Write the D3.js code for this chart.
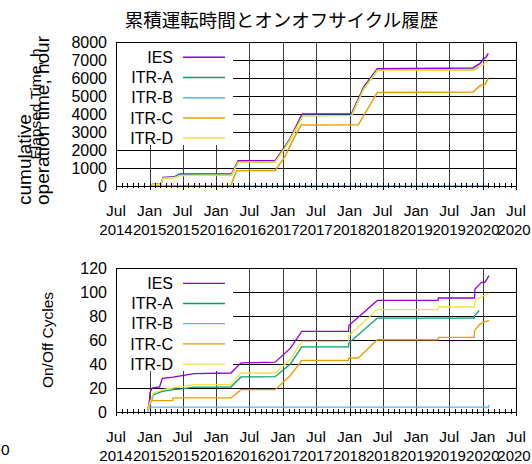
<!DOCTYPE html>
<html>
<head>
<meta charset="utf-8">
<script src="https://d3js.org/d3.v7.min.js"></script>
<style>
  body { margin: 0; background: #fff; }
</style>
</head>
<body>
<script>
var width = 532, height = 464;

var seriesNames = ["IES", "ITR-A", "ITR-B", "ITR-C", "ITR-D"];
var seriesColors = ["#9400d3", "#009e73", "#56b4e9", "#e69f00", "#f0e442"];

// cumulative operation time, hours
var iesHours = [["2015-01-13", 90], ["2015-03-03", 100], ["2015-03-16", 480], ["2015-05-19", 520], ["2015-06-16", 670],
  ["2016-03-25", 680], ["2016-05-01", 1400], ["2016-11-19", 1420], ["2017-01-12", 2200], ["2017-02-10", 2650],
  ["2017-03-01", 3050], ["2017-04-16", 4000], ["2018-01-12", 4020], ["2018-03-20", 5500], ["2018-06-02", 6520],
  ["2019-11-08", 6560], ["2019-12-16", 6800], ["2020-01-02", 7030], ["2020-01-18", 7150], ["2020-01-31", 7370]];
var itrAHours = [["2015-01-13", 80], ["2015-03-03", 90], ["2015-03-16", 440], ["2015-05-19", 480], ["2015-06-16", 600],
  ["2016-03-25", 620], ["2016-05-01", 1330], ["2016-11-19", 1350], ["2017-01-12", 2150], ["2017-02-10", 2600],
  ["2017-03-01", 2980], ["2017-04-20", 3920], ["2018-01-12", 3930], ["2018-03-20", 5420], ["2018-06-02", 6430],
  ["2019-11-08", 6450], ["2019-12-10", 6600]];
var itrBHours = [["2015-01-01", 0], ["2020-02-01", 0]];
var itrCHours = [["2015-01-01", 0], ["2016-03-20", 0], ["2016-04-22", 850], ["2016-11-19", 860], ["2017-01-12", 1630],
  ["2017-02-25", 2560], ["2017-04-10", 3390], ["2018-02-18", 3400], ["2018-06-02", 5200], ["2019-11-09", 5220],
  ["2019-12-06", 5480], ["2019-12-24", 5610], ["2020-01-12", 5620], ["2020-01-31", 5980]];
var itrDHours = [["2015-01-13", 70], ["2015-03-03", 80], ["2015-03-16", 430], ["2015-05-19", 470], ["2015-06-16", 590],
  ["2016-03-25", 610], ["2016-05-01", 1320], ["2016-11-19", 1340], ["2017-01-12", 2120], ["2017-02-10", 2580],
  ["2017-03-01", 2950], ["2017-04-20", 3900], ["2018-01-12", 3920], ["2018-03-20", 5400], ["2018-06-02", 6420],
  ["2019-11-08", 6440], ["2019-12-16", 6650], ["2020-01-10", 6800], ["2020-01-28", 6950]];

// on/off cycles
var iesCycles = [["2014-12-22", 2], ["2014-12-31", 9], ["2015-01-03", 16], ["2015-01-15", 20], ["2015-02-25", 21],
  ["2015-03-12", 28], ["2015-05-09", 29], ["2015-07-08", 30.5], ["2015-09-02", 32], ["2016-03-22", 32.5],
  ["2016-05-16", 41], ["2016-11-19", 41.5], ["2017-02-10", 53], ["2017-04-14", 67.2], ["2017-12-26", 67.2],
  ["2017-12-28", 72], ["2018-06-02", 93], ["2019-05-01", 93], ["2019-05-03", 95], ["2019-11-17", 95],
  ["2019-11-19", 102.5], ["2019-12-25", 108], ["2020-01-13", 108], ["2020-02-04", 113.6]];
var itrACycles = [["2014-12-22", 2], ["2015-01-02", 6], ["2015-01-22", 14.4], ["2015-03-12", 17.2], ["2015-05-09", 18.6],
  ["2015-07-08", 19.4], ["2015-09-02", 20.8], ["2016-03-22", 20.8], ["2016-05-16", 29.2], ["2016-11-19", 29.4],
  ["2017-02-10", 40], ["2017-04-14", 54.2], ["2017-12-26", 54.2], ["2017-12-28", 57.5], ["2018-06-02", 78.3],
  ["2019-11-15", 78.3], ["2019-11-17", 80.2], ["2019-12-13", 84.7]];
var itrBCycles = [["2014-12-22", 0], ["2014-12-31", 4], ["2020-02-02", 4], ["2020-02-04", 6]];
var itrCCycles = [["2014-12-22", 2], ["2015-01-02", 6], ["2015-01-10", 9.4], ["2015-05-08", 9.4], ["2015-05-10", 11.7],
  ["2016-03-22", 11.7], ["2016-05-16", 18.6], ["2016-11-19", 18.6], ["2017-02-10", 30.2], ["2017-04-14", 43],
  ["2017-12-26", 43], ["2017-12-28", 45], ["2018-02-18", 45], ["2018-06-02", 60.2], ["2019-05-01", 60.2],
  ["2019-05-03", 62.2], ["2019-11-15", 62.2], ["2019-11-17", 68], ["2019-12-13", 72.7], ["2019-12-25", 74],
  ["2020-02-04", 76.3]];
var itrDCycles = [["2014-12-22", 2], ["2015-01-02", 7.5], ["2015-01-22", 15.8], ["2015-03-12", 18.6], ["2015-05-09", 20],
  ["2015-07-08", 21.3], ["2015-09-02", 22.75], ["2016-03-22", 22.75], ["2016-05-16", 32.5], ["2016-11-19", 32.5],
  ["2017-02-10", 43.6], ["2017-04-14", 58.8], ["2017-12-26", 58.8], ["2017-12-28", 63.6], ["2018-06-02", 85.3],
  ["2019-05-01", 85.3], ["2019-05-03", 87.5], ["2019-11-17", 87.5], ["2019-11-19", 93], ["2020-02-04", 99.2]];

var hourTicks = [0, 1000, 2000, 3000, 4000, 5000, 6000, 7000, 8000];
var cycleTicks = [0, 20, 40, 60, 80, 100, 120];
var xDomain = ["2014-07-01", "2020-07-01"];

var parse = d3.timeParse("%Y-%m-%d");
var font = "Liberation Sans, Arial, sans-serif";

var svg = d3.select("body").append("svg")
  .attr("width", width)
  .attr("height", height);

var x = d3.scaleTime()
  .domain(xDomain.map(parse))
  .range([116, 516]);

var majorDates = d3.timeMonth.every(6).range(parse(xDomain[0]), d3.timeDay.offset(parse(xDomain[1]), 1));
var minorDates = d3.timeMonth.range(parse(xDomain[0]), d3.timeDay.offset(parse(xDomain[1]), 1));

var panels = [
  {top: 42, bottom: 186, yMax: 8000, ticks: hourTicks, data: [iesHours, itrAHours, itrBHours, itrCHours, itrDHours], lw: 1.5},
  {top: 268, bottom: 412, yMax: 120, ticks: cycleTicks, data: [iesCycles, itrACycles, itrBCycles, itrCCycles, itrDCycles], lw: 1.3}
];
panels.forEach(function(p) {
  p.y = d3.scaleLinear().domain([0, p.yMax]).range([p.bottom, p.top]);
});

function label(px, py, txt, size, anchor, rot) {
  return svg.append("text")
    .attr("transform", "translate(" + px + "," + py + ")" + (rot ? " rotate(-90)" : ""))
    .attr("text-anchor", anchor || "start")
    .attr("font-family", font).attr("font-size", size).attr("fill", "#000")
    .text(txt);
}

label(281.5, 27, "累積運転時間とオンオフサイクル履歴", 18.5, "middle")
  .attr("font-family", "Noto Sans CJK JP, sans-serif");
label(30.5, 205, "cumulative", 19, "start", true);
label(49, 205, "operation time, hour", 19, "start", true);
label(41, 104, "Elapsed Time, h", 15.5, "middle", true);
label(53, 340, "On/Off Cycles", 15.5, "middle", true);
label(1, 455, "0", 15.5);

panels.forEach(function(p) {
  p.ticks.forEach(function(t) { label(107, p.y(t) + 5.7, t, 16, "end"); });
  majorDates.forEach(function(d) {
    label(x(d), p.bottom + 30, d3.timeFormat("%b")(d), 15.5, "middle");
    label(Math.min(x(d), 514), p.bottom + 48.5, d3.timeFormat("%Y")(d), 15, "middle");
  });
});

panels.forEach(function(p) {
  var g = svg.append("g");
  var y = p.y;

  // grid as crisp paths
  var hp = d3.path();
  p.ticks.forEach(function(t) {
    var yy = Math.round(y(t)) + 0.5;
    hp.moveTo(116, yy); hp.lineTo(516, yy);
  });
  g.append("path").attr("d", hp.toString())
    .attr("fill", "none").attr("stroke", "#000").attr("stroke-width", 1)
    .attr("shape-rendering", "crispEdges");

  var vp = d3.path();
  majorDates.forEach(function(d) {
    var xx = Math.round(x(d)) + 0.5;
    vp.moveTo(xx, p.top); vp.lineTo(xx, p.bottom);
  });
  g.append("path").attr("d", vp.toString())
    .attr("fill", "none").attr("stroke", "#3a3a3a").attr("stroke-width", 1.5)
    .attr("shape-rendering", "crispEdges");

  // opaque legend box
  g.append("rect").attr("x", 117).attr("y", p.top + 1).attr("width", 116).attr("height", 102)
    .attr("fill", "#fff");

  var line = d3.line()
    .x(function(d) { return x(parse(d[0])); })
    .y(function(d) { return y(d[1]); });
  p.data.forEach(function(s, i) {
    g.append("path").attr("d", line(s))
      .attr("fill", "none").attr("stroke", seriesColors[i]).attr("stroke-width", p.lw);
  });

  seriesNames.forEach(function(n, i) {
    var ly = p.top + 15.3 + i * 20.2;
    g.append("text").attr("x", 173).attr("y", ly + 5.7)
      .attr("text-anchor", "end").attr("font-family", font).attr("font-size", 16).attr("fill", "#000")
      .text(n);
    g.append("line").attr("x1", 183).attr("x2", 225).attr("y1", ly).attr("y2", ly)
      .attr("stroke", seriesColors[i]).attr("stroke-width", p.lw);
  });

  // frame
  g.append("rect").attr("x", 116.5).attr("y", p.top + 0.5).attr("width", 400).attr("height", p.bottom - p.top)
    .attr("fill", "none").attr("stroke", "#000").attr("stroke-width", 1)
    .attr("shape-rendering", "crispEdges");

  var tp = d3.path();
  minorDates.forEach(function(d) {
    var xx = Math.round(x(d)) + 0.5;
    tp.moveTo(xx, p.bottom - 3); tp.lineTo(xx, p.bottom + 2);
  });
  majorDates.forEach(function(d) {
    var xx = Math.round(x(d)) + 0.5;
    tp.moveTo(xx, p.bottom); tp.lineTo(xx, p.bottom + 4);
  });
  g.append("path").attr("d", tp.toString())
    .attr("fill", "none").attr("stroke", "#000").attr("stroke-width", 1)
    .attr("shape-rendering", "crispEdges");
});
</script>
</body>
</html>
